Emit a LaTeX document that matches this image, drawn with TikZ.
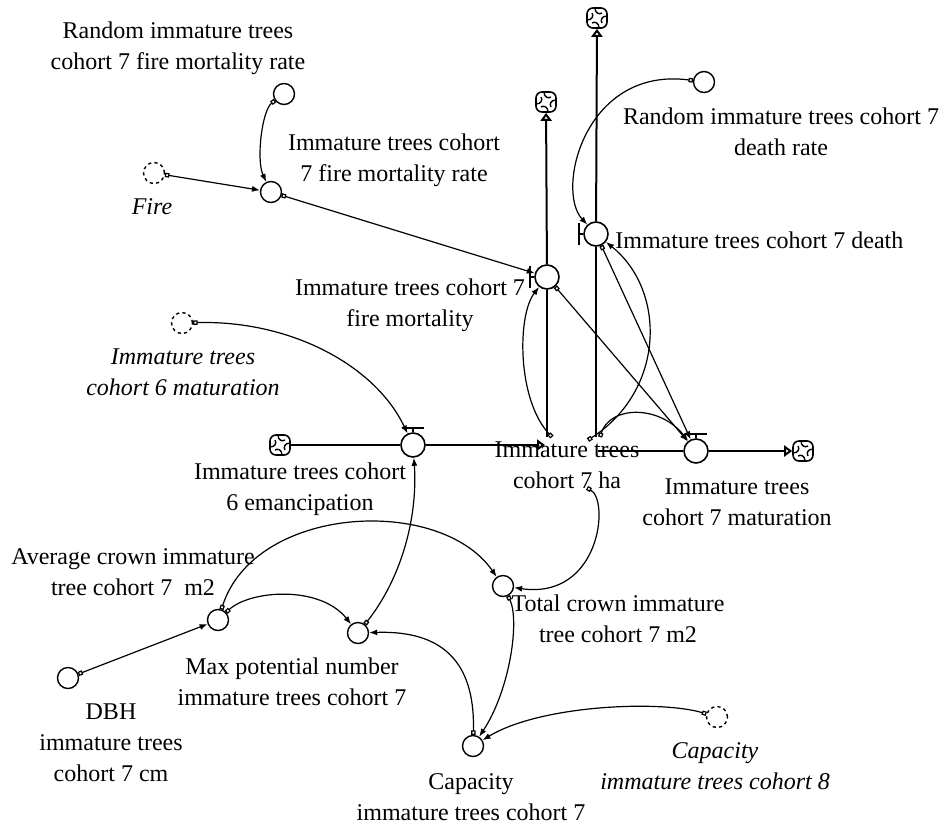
\documentclass[tikz,border=0pt]{standalone}
\usepackage{fontspec}
\setmainfont{Liberation Serif}
\usetikzlibrary{arrows.meta}
\pgfdeclarelayer{bg}
\pgfsetlayers{bg,main}
\tikzset{
  aux/.style={circle,draw,line width=0.7pt,fill=white,minimum size=10.5pt,inner sep=0pt},
  shadowvar/.style={aux,dash pattern=on 1.6pt off 1.6pt},
  valve/.style={circle,draw,line width=0.8pt,fill=white,minimum size=12pt,inner sep=0pt},
  valvebar/.style={line width=0.8pt},
  cloudnode/.style={draw,line width=0.8pt,fill=white,rounded corners=3pt,minimum size=10pt,inner sep=0pt},
  lbl/.style={align=center,inner sep=0pt,font=\fontsize{12}{15.5}\selectfont},
  ilbl/.style={align=center,inner sep=0pt,font=\fontsize{12}{15.5}\selectfont\itshape},
  link/.style={line width=0.6pt,{Square[open,length=2.2pt,width=2.2pt]}-{Latex[length=4pt,width=3pt]}},
  pipe/.style={line width=1pt},
  pipeend/.style={pipe,-{Triangle[open,length=4pt,width=5.5pt]}},
  swirl/.pic={\foreach \a in {0,90,180,270}{
      \draw[line width=0.7pt,rotate=\a] (10,-2) .. controls (5,-2) and (3,2) .. (5,5);}}
}
\begin{document}
\begin{tikzpicture}[x=0.5pt,y=-0.5pt]
\useasboundingbox (0,0) rectangle (945,825);

% auxiliaries
\node[aux] (rfr) at (284,94) {};
\node[shadowvar] (fire) at (154,173) {};
\node[aux] (fmr) at (271,192) {};
\node[aux] (rdr) at (704,82) {};
\node[shadowvar] (s6m) at (182,323) {};
\node[aux] (avg) at (218,620) {};
\node[aux] (dbh) at (68,678) {};
\node[aux] (maxp) at (358,633) {};
\node[aux] (tot) at (503,586) {};
\node[aux] (cap) at (473,746) {};
\node[shadowvar] (cap8) at (717,717) {};

% flow valves
\node[valve] (emc) at (413,445) {};
\node[valve] (fm) at (547,277) {};
\node[valve] (dth) at (596,234) {};
\node[valve] (mat) at (696,451) {};
\draw[valvebar] (emc.center) ++(-11,-17) -- ++(22,0);
\draw[valvebar] (emc.north) -- ++(0,-5);
\draw[valvebar] (mat.center) ++(-11,-17) -- ++(22,0);
\draw[valvebar] (mat.north) -- ++(0,-5);
\draw[valvebar] (fm.center) ++(-17,-11) -- ++(0,22);
\draw[valvebar] (fm.west) -- ++(-5,0);
\draw[valvebar] (dth.center) ++(-17,-11) -- ++(0,22);
\draw[valvebar] (dth.west) -- ++(-5,0);

% sources and sinks
\node[cloudnode] (cL) at (280,445) {};
\node[cloudnode] (cFM) at (546,102) {};
\node[cloudnode] (cD) at (597,18) {};
\node[cloudnode] (cR) at (803,451) {};
\foreach \c in {cL,cFM,cD,cR} {\pic at (\c) {swirl};}

% stock and its pipe ends
\node[lbl] (stk) at (567,465) {Immature trees\\cohort 7 ha};
\coordinate (sin) at (545,445);
\coordinate (sfp) at (547,437);
\coordinate (sdp) at (596,437);
\coordinate (smp) at (598,451);
\coordinate (sfm) at (552,437);
\coordinate (sdt) at (588,440);
\coordinate (smt) at (600,437);
\coordinate (stc) at (587,488);

% labels
\node[lbl] (l-rfr) at (178,48) {Random immature trees\\cohort 7 fire mortality rate};
\node[ilbl] (l-fire) at (152,207) {Fire};
\node[lbl] (l-fmr) at (394,160) {Immature trees cohort\\7 fire mortality rate};
\node[lbl] (l-rdr) at (781,132) {Random immature trees cohort 7\\death rate};
\node[lbl,anchor=west] (l-dth) at (615,240) {Immature trees cohort 7 death};
\node[lbl] (l-fm) at (410,305) {Immature trees cohort 7\\fire mortality};
\node[ilbl] (l-s6m) at (183,372) {Immature trees\\cohort 6 maturation};
\node[lbl] (l-emc) at (300,489) {Immature trees cohort\\6 emancipation};
\node[lbl] (l-mat) at (737,502) {Immature trees\\cohort 7 maturation};
\node[lbl] (l-avg) at (133,572) {Average crown immature\\tree cohort 7\ \ m2};
\node[lbl] (l-tot) at (618,619) {Total crown immature\\tree cohort 7 m2};
\node[lbl] (l-dbh) at (111,743) {DBH\\immature trees\\cohort 7 cm};
\node[lbl] (l-maxp) at (292,682) {Max potential number\\immature trees cohort 7};
\node[lbl] (l-cap) at (471,797) {Capacity\\immature trees cohort 7};
\node[ilbl] (l-cap8) at (715,766) {Capacity\\immature trees cohort 8};

\begin{pgfonlayer}{bg}
% pipes
\draw[pipe] (cL) -- (emc);
\draw[pipeend] (emc) -- (sin);
\draw[pipe] (sfp) -- (fm);
\draw[pipeend] (fm) -- (cFM);
\draw[pipe] (sdp) -- (dth);
\draw[pipeend] (dth) -- (cD);
\draw[pipe] (smp) -- (mat);
\draw[pipeend] (mat) -- (cR);

% information links
\draw[link] (rfr) .. controls (262,110) and (256,160) .. (fmr);
\draw[link] (fire) -- (fmr);
\draw[link] (fmr) -- (fm);
\draw[link] (sfm) .. controls (517,400) and (517,315) .. (fm);
\draw[link] (fm) -- (mat);
\draw[link] (rdr) .. controls (585,66) and (555,190) .. (dth);
\draw[link] (sdt) .. controls (666,390) and (666,290) .. (dth);
\draw[link] (dth) -- (mat);
\draw[link] (smt) .. controls (610,405) and (660,405) .. (mat);
\draw[link] (s6m) .. controls (290,320) and (375,365) .. (emc);
\draw[link] (maxp) .. controls (400,580) and (418,520) .. (emc);
\draw[link] (stc) .. controls (610,500) and (600,600) .. (tot);
\draw[link] (avg) .. controls (255,505) and (440,495) .. (tot);
\draw[link] (avg) .. controls (250,590) and (320,585) .. (maxp);
\draw[link] (dbh) -- (avg);
\draw[link] (tot) .. controls (520,620) and (510,690) .. (cap);
\draw[link] (cap) .. controls (475,670) and (450,630) .. (maxp);
\draw[link] (cap8) .. controls (660,700) and (540,705) .. (cap);
\end{pgfonlayer}
\end{tikzpicture}
\end{document}
